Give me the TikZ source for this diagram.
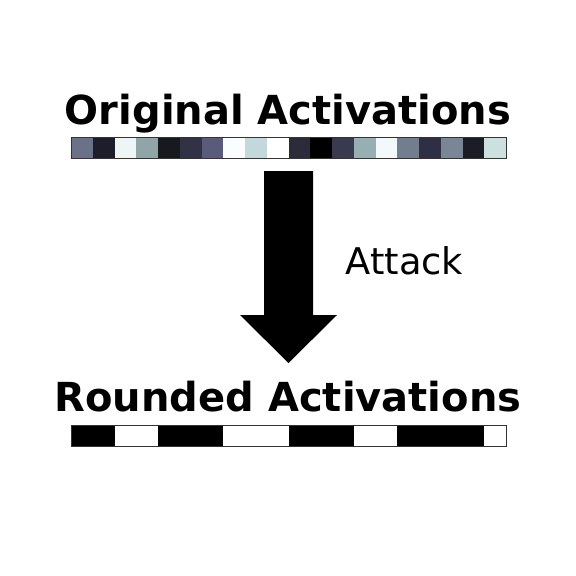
\documentclass[tikz,border=0pt]{standalone}
\usepackage{fontspec}
\setmainfont{DejaVu Sans}
\begin{document}
\begin{tikzpicture}[x=1pt,y=-1pt,
  title/.style={font=\fontsize{40}{46}\selectfont\bfseries, anchor=base, inner sep=0pt},
  lbl/.style={font=\fontsize{36.8}{42}\selectfont, anchor=base, inner sep=0pt},
  barframe/.style={draw=black!80, line width=0.8pt},
  bigarrow/.style={fill=black, draw=none}]
\useasboundingbox (0,0) rectangle (576,576);
\definecolor{c1}{HTML}{6B7189}
\definecolor{c2}{HTML}{1E1E2A}
\definecolor{c3}{HTML}{EEF5F5}
\definecolor{c4}{HTML}{8FA5A8}
\definecolor{c5}{HTML}{18181F}
\definecolor{c6}{HTML}{323247}
\definecolor{c7}{HTML}{5A5A7A}
\definecolor{c8}{HTML}{FAFDFD}
\definecolor{c9}{HTML}{C2D8DA}
\definecolor{c10}{HTML}{FFFFFF}
\definecolor{c11}{HTML}{2B2B3A}
\definecolor{c12}{HTML}{000000}
\definecolor{c13}{HTML}{393950}
\definecolor{c14}{HTML}{97AFB3}
\definecolor{c15}{HTML}{F3F8FA}
\definecolor{c16}{HTML}{727D8E}
\definecolor{c17}{HTML}{2E2E44}
\definecolor{c18}{HTML}{7A8595}
\definecolor{c19}{HTML}{1C1C25}
\definecolor{c20}{HTML}{CDE0E0}
\node[title] (t1) at (288,124) {Original Activations};
\foreach \i in {1,...,20} {
  \fill[c\i] ({71+(\i-1)*21.75},137) rectangle ({71+\i*21.75},158);
}
\node[barframe, minimum width=435pt, minimum height=21pt, inner sep=0pt] (bar1) at (288.5,147.5) {};
\node[lbl] (att) at (404.5,274) {Attack};
\fill[bigarrow] (264,171) -- (313,171) -- (313,315) -- (337,315) -- (288.5,363) -- (240,315) -- (264,315) -- cycle;
\node[title] (t2) at (288,411) {Rounded Activations};
\foreach \a/\b in {0/2,4/7,10/13,15/19} {
  \fill[black] ({71+\a*21.75},425) rectangle ({71+\b*21.75},446);
}
\node[barframe, minimum width=435pt, minimum height=21pt, inner sep=0pt] (bar2) at (288.5,435.5) {};
\end{tikzpicture}
\end{document}
